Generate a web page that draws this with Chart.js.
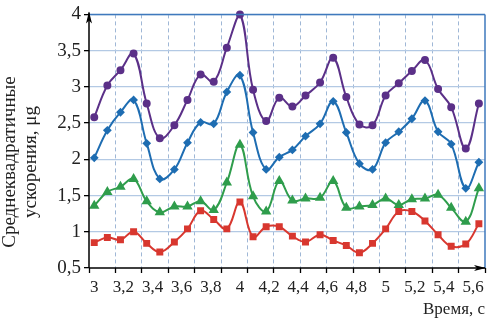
<!DOCTYPE html>
<html>
<head>
<meta charset="utf-8">
<script src="https://cdn.jsdelivr.net/npm/chart.js@4/dist/chart.umd.min.js"></script>
<style>
  html, body { margin: 0; padding: 0; background: #fff; }
  #wrap { width: 493px; height: 318px; }
</style>
</head>
<body>
<div id="wrap"><canvas id="myChart"></canvas></div>
<script>
// time, s
const times = [3.00, 3.09, 3.18, 3.27, 3.36, 3.45, 3.55, 3.64, 3.73, 3.82,
               3.91, 4.00, 4.09, 4.18, 4.27, 4.36, 4.45, 4.55, 4.64, 4.73,
               4.82, 4.91, 5.00, 5.09, 5.18, 5.27, 5.36, 5.45, 5.55, 5.64];

const purpleVals = [2.58, 3.02, 3.23, 3.46, 2.77, 2.29, 2.47, 2.82, 3.17, 3.07,
                    3.54, 4.00, 2.96, 2.53, 2.85, 2.73, 2.88, 3.06, 3.40, 2.86,
                    2.48, 2.47, 2.88, 3.05, 3.22, 3.37, 2.97, 2.72, 2.15, 2.77];
const blueVals   = [2.02, 2.40, 2.65, 2.82, 2.22, 1.73, 1.86, 2.23, 2.51, 2.49,
                    2.93, 3.16, 2.37, 1.86, 2.03, 2.13, 2.32, 2.49, 2.80, 2.37,
                    1.94, 1.86, 2.23, 2.38, 2.56, 2.81, 2.38, 2.21, 1.60, 1.96];
const greenVals  = [1.36, 1.55, 1.62, 1.73, 1.42, 1.27, 1.35, 1.35, 1.42, 1.30,
                    1.68, 2.20, 1.49, 1.28, 1.70, 1.43, 1.46, 1.47, 1.70, 1.33,
                    1.35, 1.37, 1.46, 1.37, 1.45, 1.46, 1.51, 1.33, 1.14, 1.60];
const redVals    = [0.85, 0.92, 0.89, 1.00, 0.84, 0.72, 0.86, 1.04, 1.29, 1.17,
                    1.04, 1.41, 0.93, 1.07, 1.07, 0.94, 0.86, 0.96, 0.88, 0.81,
                    0.71, 0.84, 1.04, 1.28, 1.28, 1.15, 0.96, 0.80, 0.83, 1.11];

const xTickValues = [3, 3.2, 3.4, 3.6, 3.8, 4, 4.2, 4.4, 4.6, 4.8, 5, 5.2, 5.4, 5.6];
const yTitle = ['Среднеквадратичные', 'ускорения, μg'];
const xTitle = 'Время, с';

const FONT = "'Liberation Serif', 'DejaVu Serif', serif";
const comma = v => String(Math.round(v * 10) / 10).replace('.', ',');

function series(vals, color, style, r) {
  return {
    data: times.map((t, i) => ({ x: t, y: vals[i] })),
    xAxisID: 'x',
    yAxisID: 'y',
    borderColor: color,
    backgroundColor: color,
    pointBackgroundColor: color,
    pointBorderColor: color,
    pointStyle: style,
    pointRadius: r,
    borderWidth: 2,
    tension: 0.4,
    clip: false
  };
}

// axes with arrows, blue frame, axis titles
const decor = {
  id: 'decor',
  afterDraw(chart) {
    const { ctx, chartArea: a } = chart;
    ctx.save();
    ctx.strokeStyle = '#3f79bd';
    ctx.lineWidth = 1.5;
    ctx.beginPath();
    ctx.moveTo(a.left, a.top); ctx.lineTo(a.right, a.top);
    ctx.moveTo(a.right, a.top); ctx.lineTo(a.right, a.bottom);
    ctx.stroke();

    ctx.strokeStyle = '#000';
    ctx.lineWidth = 1.5;
    ctx.beginPath();
    ctx.moveTo(a.left, a.bottom); ctx.lineTo(a.right, a.bottom);
    ctx.moveTo(a.left, a.bottom); ctx.lineTo(a.left, a.top - 2);
    ctx.stroke();
    ctx.fillStyle = '#000';
    ctx.beginPath();
    ctx.moveTo(a.left, a.top - 3);
    ctx.lineTo(a.left - 3, a.top + 9);
    ctx.lineTo(a.left, a.top + 6);
    ctx.lineTo(a.left + 3, a.top + 9);
    ctx.closePath(); ctx.fill();
    ctx.beginPath();
    ctx.moveTo(a.right + 1, a.bottom);
    ctx.lineTo(a.right - 11, a.bottom - 3);
    ctx.lineTo(a.right - 8, a.bottom);
    ctx.lineTo(a.right - 11, a.bottom + 3);
    ctx.closePath(); ctx.fill();

    ctx.fillStyle = '#222';
    ctx.font = '17px ' + FONT;
    ctx.textAlign = 'right';
    ctx.textBaseline = 'alphabetic';
    ctx.fillText(xTitle, a.right, 314);

    ctx.font = '19px ' + FONT;
    ctx.textAlign = 'center';
    ctx.textBaseline = 'middle';
    ctx.translate(0, 162);
    ctx.rotate(-Math.PI / 2);
    ctx.fillText(yTitle[0], 0, 10);
    ctx.fillText(yTitle[1], 0, 31);
    ctx.restore();
  }
};

new Chart(document.getElementById('myChart'), {
  type: 'line',
  data: {
    datasets: [
      series(purpleVals, '#5b3088', 'circle', 3),
      series(blueVals, '#1e6db2', 'rectRot', 3),
      series(greenVals, '#2f9d4c', 'triangle', 4),
      series(redVals, '#d8372f', 'rect', 3.5)
    ]
  },
  options: {
    responsive: true,
    maintainAspectRatio: false,
    devicePixelRatio: 1,
    animation: false,
    layout: { padding: { top: 11, right: 8, left: 0, bottom: 0 } },
    plugins: { legend: { display: false }, tooltip: { enabled: false } },
    scales: {
      xg: {
        type: 'linear',
        position: 'bottom',
        weight: 0,
        min: 0,
        max: 15,
        ticks: { stepSize: 1, display: false },
        grid: {
          color: ctx => (ctx.tick.value === 0 || ctx.tick.value === 15) ? 'rgba(0,0,0,0)' : '#9fb7d6',
          lineWidth: 1,
          tickColor: '#000',
          tickLength: 5,
          tickWidth: 1.3,
          tickBorderDash: []
        },
        border: { display: false, dash: [4, 3] },
        afterFit: s => { s.height = 0; }
      },
      x: {
        type: 'linear',
        position: 'bottom',
        weight: 1,
        min: 2.964,
        max: 5.682,
        afterBuildTicks: s => { s.ticks = xTickValues.map(v => ({ value: v })); },
        ticks: {
          callback: v => comma(v),
          font: { family: FONT, size: 17 },
          color: '#222',
          padding: 1,
          maxRotation: 0,
          autoSkip: false
        },
        grid: { display: false },
        border: { display: false },
        afterFit: s => { s.height = 50; }
      },
      y: {
        type: 'linear',
        min: 0.5,
        max: 4,
        ticks: {
          stepSize: 0.5,
          callback: v => comma(v),
          font: { family: FONT, size: 19 },
          color: '#222',
          padding: 3
        },
        grid: {
          color: ctx => ctx.tick.value === 0.5 ? 'rgba(0,0,0,0)' : '#b3c9e4',
          lineWidth: 1.3,
          tickColor: '#000',
          tickLength: 5,
          tickWidth: 1.3
        },
        border: { display: false },
        afterFit: s => { s.width = 89; }
      }
    }
  },
  plugins: [decor]
});
</script>
</body>
</html>
